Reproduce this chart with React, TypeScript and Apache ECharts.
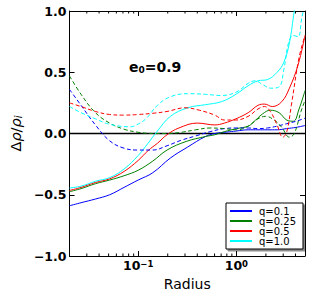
import React, { useEffect, useRef } from 'react';
import * as echarts from 'echarts';

// ---- axis ranges / ticks ----
const xMin = 0.02;
const xMax = 5;
const yMin = -1;
const yMax = 1;
const yInterval = 0.5;
const minorTicks = [0.03, 0.04, 0.05, 0.06, 0.07, 0.08, 0.09, 0.2, 0.3, 0.4, 0.5, 0.6, 0.7, 0.8, 0.9, 2, 3, 4];

// ---- series names ----
const qNames = ['q=0.1', 'q=0.25', 'q=0.5', 'q=1.0'];
const qColors = ['#0000ff', '#008000', '#ff0000', '#00ffff'];

// ---- data: [radius, Δρ/ρi] ----
const q01Solid: [number, number][] = [
  [0.02, -0.59], [0.0262, -0.565], [0.0367, -0.535], [0.0513, -0.5], [0.0718, -0.44], [0.1, -0.38],
  [0.141, -0.32], [0.213, -0.2], [0.32, -0.11], [0.483, -0.025], [0.604, 0.0], [0.8, 0.012],
  [0.99, 0.02], [1.32, 0.03], [1.66, 0.03], [2.07, 0.03], [2.6, 0.03], [3.25, 0.04], [4.06, 0.05], [5.0, 0.065],
];
const q01Dashed: [number, number][] = [
  [0.02, 0.36], [0.0262, 0.23], [0.0367, 0.07], [0.0513, -0.06], [0.0718, -0.12], [0.1, -0.135],
  [0.141, -0.135], [0.197, -0.1], [0.275, -0.055], [0.385, -0.02], [0.54, 0.015], [0.755, 0.04],
  [0.99, 0.045], [1.32, 0.045], [1.66, 0.04], [2.07, 0.045], [2.6, 0.06], [3.25, 0.08], [4.06, 0.1], [5.0, 0.125],
];
const q025Solid: [number, number][] = [
  [0.02, -0.475], [0.0262, -0.45], [0.0367, -0.41], [0.0513, -0.38], [0.0718, -0.345], [0.1, -0.3],
  [0.141, -0.225], [0.197, -0.135], [0.308, -0.065], [0.483, -0.025], [0.604, -0.01], [0.755, 0.015],
  [1.01, 0.04], [1.32, 0.06], [1.48, 0.09], [1.85, 0.16], [2.22, 0.19], [2.72, 0.17], [3.25, 0.11],
  [3.8, 0.1], [4.35, 0.2], [5.0, 0.35],
];
const q025Dashed: [number, number][] = [
  [0.02, 0.47], [0.0262, 0.32], [0.0367, 0.17], [0.0513, 0.085], [0.0718, 0.035], [0.1, 0.01],
  [0.141, 0.0], [0.197, 0.0], [0.275, 0.01], [0.385, 0.03], [0.54, 0.045], [0.755, 0.04],
  [1.01, 0.03], [1.32, 0.06], [1.66, 0.12], [1.98, 0.14], [2.43, 0.11], [2.9, 0.05], [3.47, -0.03],
  [3.89, 0.0], [4.55, 0.18], [5.0, 0.27],
];
const q05Solid: [number, number][] = [
  [0.02, -0.465], [0.0262, -0.44], [0.0367, -0.4], [0.0513, -0.37], [0.0718, -0.31], [0.1, -0.22],
  [0.126, -0.14], [0.157, -0.08], [0.197, -0.01], [0.26, 0.045], [0.4, 0.085], [0.604, 0.07],
  [0.755, 0.085], [0.99, 0.12], [1.32, 0.17], [1.66, 0.23], [1.94, 0.24], [2.32, 0.22], [2.9, 0.26],
  [3.47, 0.37], [4.25, 0.56], [5.0, 0.8],
];
const q05Dashed: [number, number][] = [
  [0.02, 0.25], [0.0262, 0.22], [0.0367, 0.18], [0.0513, 0.155], [0.0718, 0.15], [0.1, 0.155],
  [0.141, 0.165], [0.197, 0.18], [0.3, 0.21], [0.42, 0.19], [0.604, 0.15], [0.755, 0.11],
  [0.99, 0.11], [1.32, 0.14], [1.66, 0.2], [1.94, 0.22], [2.22, 0.18], [2.6, 0.07], [2.97, -0.03],
  [3.25, 0.01], [3.63, 0.23], [4.35, 0.62], [5.0, 0.8],
];
const q10Solid: [number, number][] = [
  [0.02, -0.445], [0.0262, -0.43], [0.0367, -0.39], [0.0513, -0.36], [0.0718, -0.29], [0.1, -0.18],
  [0.126, -0.08], [0.157, 0.02], [0.213, 0.14], [0.32, 0.21], [0.483, 0.235], [0.706, 0.26],
  [0.99, 0.32], [1.32, 0.39], [1.66, 0.43], [2.07, 0.44], [2.6, 0.5],
  [3.04, 0.58], [3.47, 0.74], [3.89, 1.0], [4.2, 1.15],
];
const q10Dashed: [number, number][] = [
  [0.02, 0.22], [0.0262, 0.17], [0.0367, 0.12], [0.0513, 0.075], [0.084, 0.055], [0.0961, 0.07],
  [0.12, 0.12], [0.157, 0.23], [0.213, 0.3], [0.32, 0.325], [0.483, 0.32],
  [0.706, 0.31], [1.01, 0.34], [1.32, 0.41], [1.55, 0.43], [1.85, 0.4], [2.22, 0.37], [2.72, 0.38],
  [3.04, 0.52], [3.4, 0.74], [3.8, 0.8], [4.25, 0.79], [4.65, 0.95], [5.0, 1.05],
];
const zeroLine: [number, number][] = [[xMin, 0], [xMax, 0]];

const solidSets = [q01Solid, q025Solid, q05Solid, q10Solid];
const dashedSets = [q01Dashed, q025Dashed, q05Dashed, q10Dashed];

const FONT = 'DejaVu Sans';

function decadeLabel(v: number): string {
  const l = Math.log10(v);
  const e = Math.round(l);
  if (Math.abs(l - e) > 1e-6) return '';
  return `{b|10}{s|${e < 0 ? '\u2212' : ''}${Math.abs(e)}}`;
}

export default function App() {
  const ref = useRef<HTMLDivElement>(null);
  useEffect(() => {
    if (!ref.current) return;
    const chart = echarts.init(ref.current, undefined, { renderer: 'svg' });

    const lineSeries: any[] = [];
    lineSeries.push({
      type: 'line',
      name: 'zero',
      data: zeroLine,
      showSymbol: false,
      symbol: 'none',
      lineStyle: { color: '#000', width: 1.6 },
      itemStyle: { color: '#000' },
      z: 1,
      silent: true,
    });
    solidSets.forEach((d, i) => {
      lineSeries.push({
        type: 'line',
        name: qNames[i],
        data: d,
        showSymbol: false,
        symbol: 'none',
        smooth: 0.4,
        lineStyle: { color: qColors[i], width: 1, type: 'solid' },
        itemStyle: { color: qColors[i] },
        z: 3,
      });
    });
    dashedSets.forEach((d, i) => {
      lineSeries.push({
        type: 'line',
        name: qNames[i] + ' dashed',
        data: d,
        showSymbol: false,
        symbol: 'none',
        smooth: 0.4,
        lineStyle: { color: qColors[i], width: 1, type: [4, 2.5] },
        itemStyle: { color: qColors[i] },
        z: 3,
      });
    });
    lineSeries.push({
      type: 'custom',
      name: 'minor',
      data: minorTicks.map((v) => [v, yMin]),
      silent: true,
      z: 10,
      renderItem: (_p: any, api: any) => {
        const x = api.value(0);
        const b = api.coord([x, yMin]);
        const t = api.coord([x, yMax]);
        return {
          type: 'group',
          children: [
            { type: 'line', shape: { x1: b[0], y1: b[1], x2: b[0], y2: b[1] - 2.5 }, style: { stroke: '#000', lineWidth: 1 } },
            { type: 'line', shape: { x1: t[0], y1: t[1], x2: t[0], y2: t[1] + 2.5 }, style: { stroke: '#000', lineWidth: 1 } },
          ],
        };
      },
    });

    const axisLine = { show: true, onZero: false, lineStyle: { color: '#000', width: 1 } };
    const axisTick = { show: true, inside: true, length: 5, lineStyle: { color: '#000', width: 1 } };

    chart.setOption({
      animation: false,
      backgroundColor: '#fff',
      textStyle: { fontFamily: FONT },
      grid: { left: 58, right: 5, top: 11, bottom: 40, containLabel: false },
      legend: {
        data: qNames,
        orient: 'vertical',
        left: 226,
        top: 203,
        padding: [3, 7, 3, 4],
        itemGap: 0,
        itemWidth: 22,
        itemHeight: 2,
        icon: 'rect',
        backgroundColor: '#fff',
        borderColor: '#000',
        borderWidth: 1,
        borderRadius: 0,
        shadowColor: 'rgba(0,0,0,0.45)',
        shadowOffsetX: 2,
        shadowOffsetY: 2,
        shadowBlur: 0,
        textStyle: { fontFamily: FONT, fontSize: 10, color: '#000', lineHeight: 10, padding: [0, 0, 0, 2] },
      },
      xAxis: [
        {
          type: 'log',
          logBase: 10,
          min: xMin,
          max: xMax,
          position: 'bottom',
          axisLine,
          axisTick,
          splitLine: { show: false },
          axisLabel: {
            margin: 3,
            formatter: decadeLabel,
            showMinLabel: false,
            showMaxLabel: false,
            rich: {
              b: { fontSize: 12.5, fontWeight: 'bold', fontFamily: FONT, color: '#000' },
              s: { fontSize: 8.5, fontWeight: 'bold', fontFamily: FONT, color: '#000', verticalAlign: 'top' },
            },
          },
          name: 'Radius',
          nameLocation: 'middle',
          nameGap: 20,
          nameTextStyle: { fontSize: 14, fontFamily: FONT, color: '#000' },
        },
        {
          type: 'log',
          logBase: 10,
          min: xMin,
          max: xMax,
          position: 'top',
          axisLine,
          axisTick,
          splitLine: { show: false },
          axisLabel: { show: false },
        },
      ],
      yAxis: [
        {
          type: 'value',
          min: yMin,
          max: yMax,
          interval: yInterval,
          position: 'left',
          axisLine,
          axisTick,
          splitLine: { show: false },
          axisLabel: {
            margin: 3,
            fontSize: 12.5,
            fontWeight: 'bold',
            fontFamily: FONT,
            color: '#000',
            formatter: (v: number) => v.toFixed(1).replace('-', '\u2212'),
          },
          name: '{d|\u0394}{r|\u03c1}{d|/}{r|\u03c1}{s|i}',
          nameLocation: 'middle',
          nameRotate: 90,
          nameGap: 40,
          nameTextStyle: {
            rich: {
              d: { fontSize: 14.5, fontFamily: FONT, color: '#000' },
              r: { fontSize: 14.5, fontFamily: FONT, fontStyle: 'italic', color: '#000' },
              s: { fontSize: 10, fontFamily: FONT, fontStyle: 'italic', color: '#000', verticalAlign: 'bottom' },
            },
          },
        },
        {
          type: 'value',
          min: yMin,
          max: yMax,
          interval: yInterval,
          position: 'right',
          axisLine,
          axisTick,
          splitLine: { show: false },
          axisLabel: { show: false },
        },
      ],
      graphic: [
        {
          type: 'text',
          left: 129,
          top: 60,
          style: {
            text: '{e|e}{s|0}{t|=0.9}',
            rich: {
              e: { fontSize: 14, fontWeight: 'bold', fontFamily: FONT, fill: '#000' },
              s: { fontSize: 9, fontWeight: 'bold', fontFamily: FONT, fill: '#000', verticalAlign: 'bottom' },
              t: { fontSize: 14, fontWeight: 'bold', fontFamily: FONT, fill: '#000' },
            },
          },
        },
      ],
      series: lineSeries,
    });
    return () => chart.dispose();
  }, []);
  return (
    <div
      ref={ref}
      style={{ position: 'fixed', left: 0, top: 0, width: 310, height: 296, background: '#fff' }}
    />
  );
}
